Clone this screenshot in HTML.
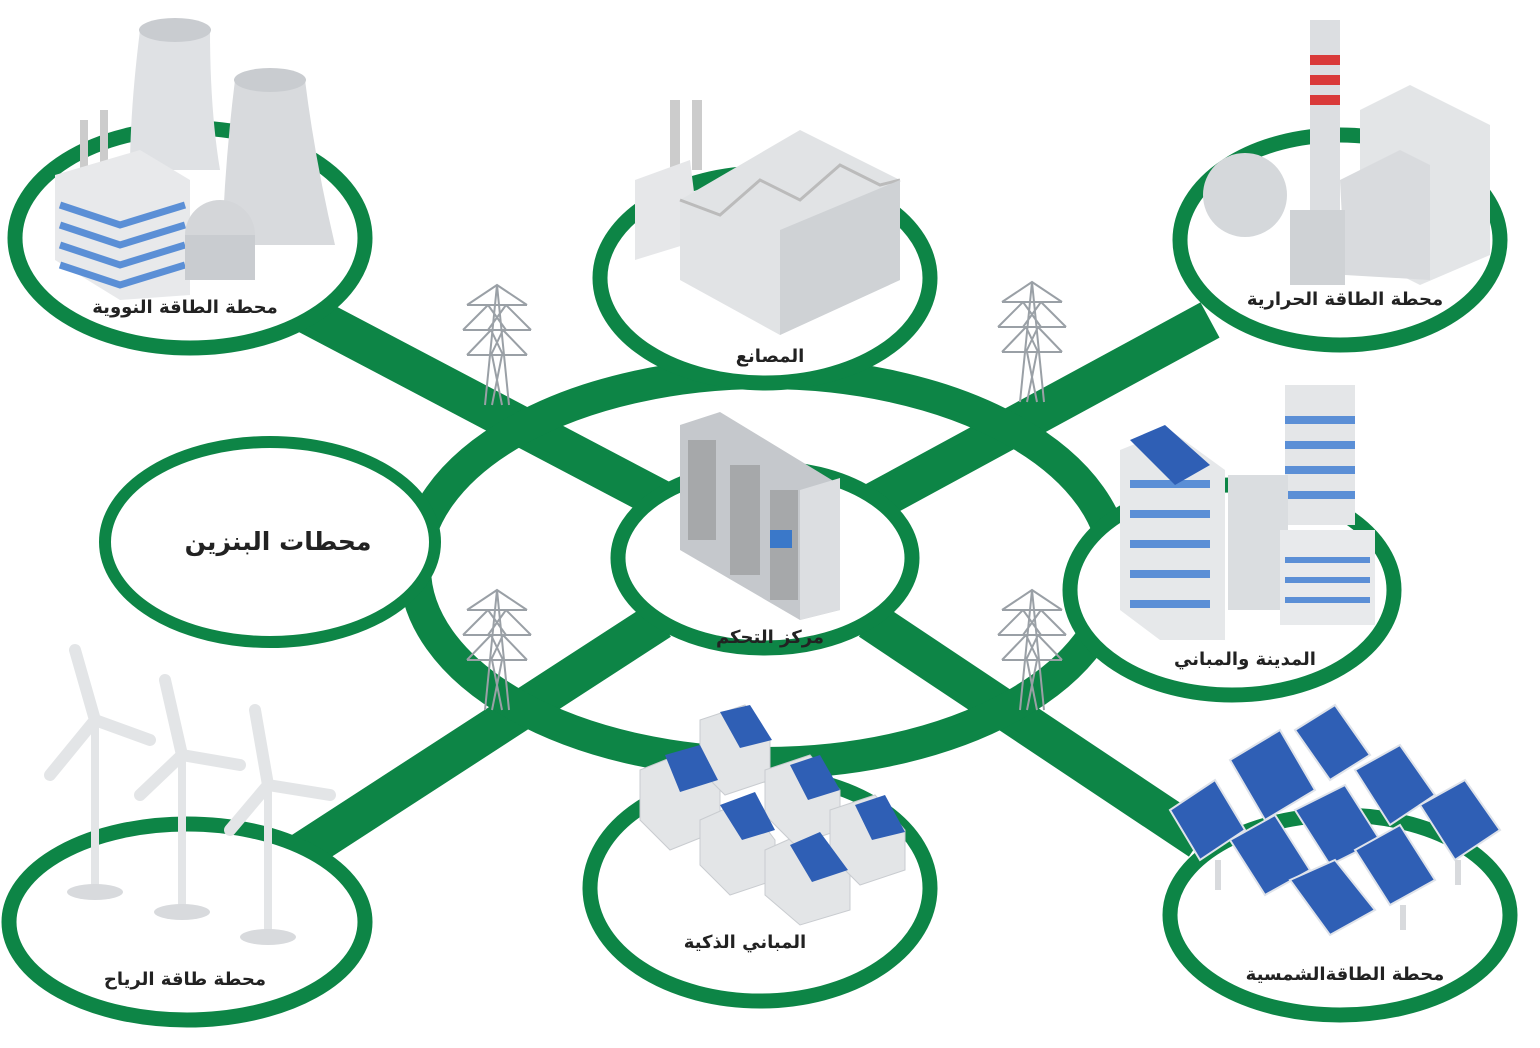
<!DOCTYPE html>
<html><head><meta charset="utf-8"><style>
body{margin:0;background:#fff;}
svg{display:block}
text{font-family:"DejaVu Sans","Liberation Sans",sans-serif;font-weight:bold;fill:#222;text-anchor:middle}
</style></head><body>
<svg width="1540" height="1048" viewBox="0 0 1540 1048" xmlns="http://www.w3.org/2000/svg">
<defs>
<g id="tower" stroke="#9aa0a6" stroke-width="2" fill="none">
<path d="M0,0 L-12,120 M0,0 L12,120 M-30,20 L30,20 M-34,45 L34,45 M-30,70 L30,70 M-9,20 L9,45 M9,20 L-9,45 M-6,45 L6,70 M6,45 L-6,70 M-5,70 L5,120 M5,70 L-5,120 M-30,20 L0,0 L30,20 M-34,45 L-9,20 M34,45 L9,20 M-30,70 L-6,45 M30,70 L6,45"/>
</g>
</defs>
<g fill="none" stroke="#0d8546">
<path d="M300,310 L680,510" stroke-width="40"/>
<path d="M1210,320 L860,510" stroke-width="40"/>
<path d="M290,860 L660,620" stroke-width="40"/>
<path d="M1200,840 L870,620" stroke-width="40"/>
<ellipse cx="765" cy="568" rx="350" ry="195" stroke-width="32"/>
</g>
<g fill="#fff" stroke="#0d8546" stroke-width="15">
<ellipse cx="190" cy="238" rx="175" ry="110"/>
<ellipse cx="765" cy="278" rx="165" ry="105"/>
<ellipse cx="1340" cy="240" rx="160" ry="105"/>
<ellipse cx="270" cy="542" rx="165" ry="100" stroke-width="12"/>
<ellipse cx="765" cy="558" rx="147" ry="90"/>
<ellipse cx="1232" cy="590" rx="162" ry="105"/>
<ellipse cx="187" cy="922" rx="178" ry="98"/>
<ellipse cx="760" cy="888" rx="170" ry="113"/>
<ellipse cx="1340" cy="915" rx="170" ry="100"/>
</g>
<use href="#tower" x="497" y="285"/>
<use href="#tower" x="1032" y="282"/>
<use href="#tower" x="497" y="590"/>
<use href="#tower" x="1032" y="590"/>
<!-- nuclear -->
<g>
<path d="M140,30 Q130,110 130,170 L220,170 Q210,110 210,30 Z" fill="#dfe1e4"/>
<path d="M235,80 Q225,160 222,245 L335,245 Q315,160 305,80 Z" fill="#d8dadd"/>
<ellipse cx="270" cy="80" rx="36" ry="12" fill="#c9ccd0"/>
<ellipse cx="175" cy="30" rx="36" ry="12" fill="#c9ccd0"/>
<rect x="80" y="120" width="8" height="60" fill="#ccc"/><rect x="100" y="110" width="8" height="60" fill="#ccc"/>
<path d="M55,175 L140,150 L190,180 L190,295 L120,300 L55,260 Z" fill="#e8e9eb"/>
<g stroke="#5b8fd6" stroke-width="7" fill="none"><path d="M60,205 L120,225 L185,205"/><path d="M60,225 L120,245 L185,225"/><path d="M60,245 L120,265 L185,245"/><path d="M60,265 L120,285 L185,265"/></g>
<circle cx="220" cy="235" r="35" fill="#d4d6d9"/><rect x="185" y="235" width="70" height="45" fill="#c9ccd0"/>
</g>
<text x="185" y="313" font-size="18">محطة الطاقة النووية</text>
<!-- factory -->
<g>
<rect x="670" y="100" width="10" height="70" fill="#ccc"/><rect x="692" y="100" width="10" height="70" fill="#ccc"/>
<path d="M635,180 L690,160 L700,240 L635,260 Z" fill="#e6e7e9"/>
<path d="M680,200 L800,130 L900,180 L900,280 L780,335 L680,280 Z" fill="#e1e3e5"/>
<path d="M680,200 L720,215 L760,180 L800,200 L840,165 L880,185 L900,180" fill="none" stroke="#bbb" stroke-width="3"/>
<path d="M780,335 L780,230 L900,180 L900,280 Z" fill="#cfd2d5"/>
</g>
<text x="770" y="362" font-size="18">المصانع</text>
<!-- thermal -->
<g>
<rect x="1310" y="20" width="30" height="240" fill="#dcdee1"/>
<rect x="1310" y="55" width="30" height="10" fill="#d93a3a"/><rect x="1310" y="75" width="30" height="10" fill="#d93a3a"/><rect x="1310" y="95" width="30" height="10" fill="#d93a3a"/>
<path d="M1360,110 L1410,85 L1490,125 L1490,255 L1420,285 L1360,255 Z" fill="#e3e5e7"/>
<path d="M1340,180 L1400,150 L1430,165 L1430,280 L1345,275 Z" fill="#d9dbde"/>
<circle cx="1245" cy="195" r="42" fill="#d5d8db"/>
<rect x="1290" y="210" width="55" height="75" fill="#cfd2d5"/>
</g>
<text x="1345" y="305" font-size="18">محطة الطاقة الحرارية</text>
<text x="278" y="550" font-size="25">محطات البنزين</text>
<!-- control center -->
<g>
<path d="M680,425 L720,412 L840,485 L840,610 L800,620 L680,550 Z" fill="#c5c8cc"/>
<path d="M800,490 L840,478 L840,610 L800,620 Z" fill="#dcdee1"/>
<g fill="#888"><rect x="688" y="440" width="28" height="100" opacity=".5"/><rect x="730" y="465" width="30" height="110" opacity=".5"/><rect x="770" y="490" width="28" height="110" opacity=".5"/></g>
<rect x="770" y="530" width="22" height="18" fill="#3a78c9"/>
</g>
<text x="770" y="643" font-size="18">مركز التحكم</text>
<!-- city -->
<g>
<rect x="1285" y="385" width="70" height="140" fill="#e4e6e8"/>
<g stroke="#5b8fd6" stroke-width="8"><path d="M1285,420 H1355 M1285,445 H1355 M1285,470 H1355 M1285,495 H1355"/></g>
<path d="M1120,450 L1170,430 L1225,470 L1225,640 L1160,640 L1120,610 Z" fill="#e6e8ea"/>
<g fill="#5b8fd6"><rect x="1130" y="480" width="80" height="8"/><rect x="1130" y="510" width="80" height="8"/><rect x="1130" y="540" width="80" height="8"/><rect x="1130" y="570" width="80" height="8"/><rect x="1130" y="600" width="80" height="8"/></g>
<path d="M1130,440 L1165,425 L1210,465 L1175,485 Z" fill="#2f5fb5"/>
<rect x="1228" y="475" width="60" height="135" fill="#dadde0"/>
<rect x="1280" y="530" width="95" height="95" fill="#e8eaec"/>
<g stroke="#5b8fd6" stroke-width="6"><path d="M1285,560 H1370 M1285,580 H1370 M1285,600 H1370"/></g>
</g>
<text x="1245" y="665" font-size="18">المدينة والمباني</text>
<!-- wind -->
<g stroke="#e3e5e7" fill="none" stroke-linecap="round">
<g stroke-width="8"><path d="M95,720 V890"/><path d="M182,755 V910"/><path d="M268,785 V935"/></g>
<g stroke-width="12"><path d="M95,720 L75,650 M95,720 L150,740 M95,720 L50,775"/><path d="M182,755 L165,680 M182,755 L240,765 M182,755 L140,795"/><path d="M268,785 L255,710 M268,785 L330,795 M268,785 L230,830"/></g>
</g>
<g fill="#d8dadd"><ellipse cx="95" cy="892" rx="28" ry="8"/><ellipse cx="182" cy="912" rx="28" ry="8"/><ellipse cx="268" cy="937" rx="28" ry="8"/></g>
<text x="185" y="985" font-size="18">محطة طاقة الرياح</text>
<!-- smart buildings -->
<g>
<g fill="#e3e5e7" stroke="#c9ccd0">
<path d="M640,770 L690,750 L720,790 L720,830 L670,850 L640,820 Z"/>
<path d="M700,720 L745,705 L770,740 L770,780 L725,795 L700,770 Z"/>
<path d="M700,820 L745,800 L775,840 L775,880 L730,895 L700,865 Z"/>
<path d="M765,850 L810,830 L850,870 L850,910 L800,925 L765,895 Z"/>
<path d="M765,770 L810,755 L840,790 L840,830 L795,845 L765,815 Z"/>
<path d="M830,810 L875,795 L905,830 L905,870 L860,885 L830,855 Z"/>
</g>
<g fill="#2f5fb5"><path d="M665,755 L700,745 L718,780 L680,792 Z"/><path d="M720,712 L750,705 L772,740 L740,748 Z"/><path d="M720,805 L755,792 L775,830 L742,840 Z"/><path d="M790,845 L820,832 L848,870 L812,882 Z"/><path d="M790,765 L820,755 L840,790 L808,800 Z"/><path d="M855,805 L885,795 L905,832 L872,840 Z"/></g>
</g>
<text x="745" y="948" font-size="18">المباني الذكية</text>
<!-- solar -->
<g fill="#2f5fb5" stroke="#dfe3ea" stroke-width="2">
<path d="M1170,810 L1215,780 L1245,830 L1200,860 Z"/>
<path d="M1230,760 L1280,730 L1315,790 L1265,820 Z"/>
<path d="M1295,730 L1335,705 L1370,755 L1330,780 Z"/>
<path d="M1355,770 L1400,745 L1435,795 L1390,825 Z"/>
<path d="M1420,805 L1465,780 L1500,830 L1455,860 Z"/>
<path d="M1230,840 L1275,815 L1310,870 L1265,895 Z"/>
<path d="M1295,810 L1345,785 L1380,840 L1330,865 Z"/>
<path d="M1355,850 L1400,825 L1435,880 L1390,905 Z"/>
<path d="M1290,880 L1335,860 L1375,910 L1330,935 Z"/>
</g>
<g fill="#d8dadd"><rect x="1215" y="860" width="6" height="30"/><rect x="1400" y="905" width="6" height="25"/><rect x="1455" y="860" width="6" height="25"/></g>
<text x="1345" y="980" font-size="18">محطة الطاقةالشمسية</text>
</svg>
</body></html>
